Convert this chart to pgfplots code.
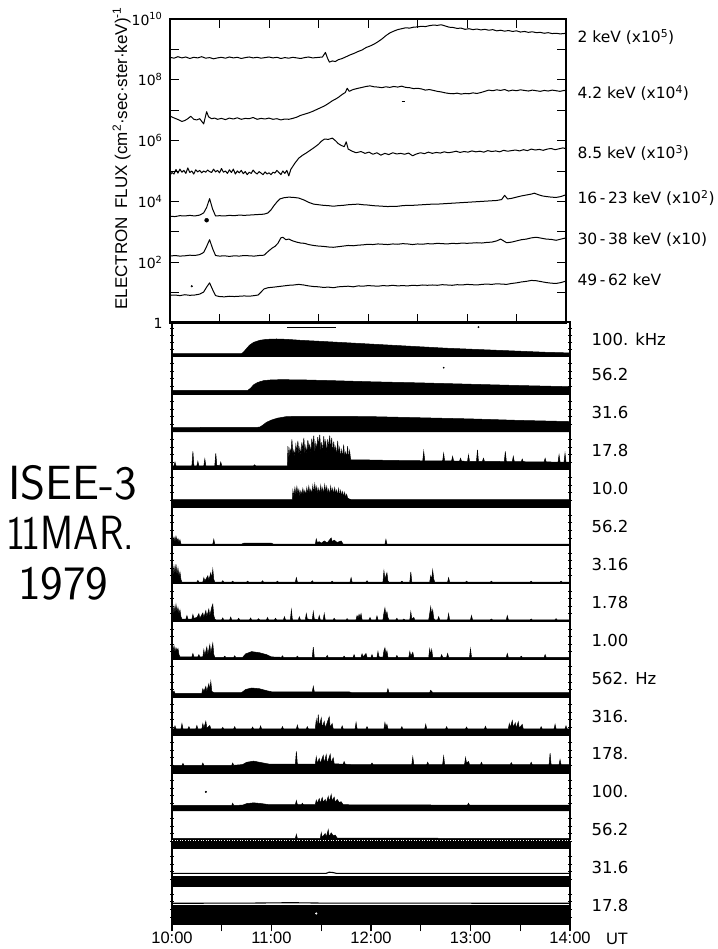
\documentclass[border=0pt]{standalone}
\usepackage{fontspec}
\setmainfont{DejaVu Sans}
\newfontfamily\lib{Liberation Sans}
\usepackage{pgfplots}
\pgfplotsset{compat=1.18}
\newcommand{\slabfont}{\fontsize{16.5}{17}\selectfont}
\newcommand{\slab}[1]{\node[anchor=west,xshift=18pt,font=\slabfont] at (rel axis cs:1,0.5) {#1};}
\pgfplotsset{
  strip/.style={scale only axis, width=398pt, height=#1, anchor=south west,
    xmin=10, xmax=14, ymin=0, ymax=1, clip=false,
    axis line style={line width=1.3pt},
    xtick=\empty, ytick={0.2,0.4,0.6,0.8}, yticklabels={},
    tick align=center, major tick length=4pt, ytick pos=both,
    tick style={black, line width=0.7pt}},
  sfill/.style={fill=black, draw=black, line width=0.5pt},
  trace/.style={black, line width=1pt, line join=round},
}
\begin{document}
\begin{tikzpicture}
\path[use as bounding box] (0pt,0pt) rectangle (717pt,949pt);

% ---------------- top panel: electron flux (log10 values) ----------------
\begin{axis}[scale only axis, width=396pt, height=304pt, at={(170pt,626pt)}, anchor=south west,
  xmin=10, xmax=14, ymin=0, ymax=10, clip=false,
  xtick={10,10.5,...,14}, xticklabels={},
  ytick={0,1,...,10},
  yticklabels={1,{},10\textsuperscript{2},{},10\textsuperscript{4},{},10\textsuperscript{6},{},10\textsuperscript{8},{},10\textsuperscript{10}},
  tick align=inside, tick pos=both, major tick length=9pt,
  axis line style={line width=1.3pt}, tick style={black, line width=0.9pt},
  yticklabel style={font=\fontsize{14}{14}\selectfont, xshift=-4pt},
  ylabel={ELECTRON\enspace FLUX (cm\textsuperscript{2}·sec·ster·keV)\textsuperscript{-1}},
  ylabel style={at={(axis description cs:-0.122,0.542)}, anchor=center, font=\lib\fontsize{17}{17}\selectfont},
]
% 2 keV (x1e5)
\addplot[trace] coordinates {(10.00,8.74)(10.04,8.71)(10.08,8.76)(10.12,8.72)(10.16,8.75)(10.20,8.70)(10.24,8.74)(10.28,8.72)(10.32,8.76)(10.36,8.71)(10.40,8.73)(10.44,8.69)(10.48,8.72)(10.52,8.74)(10.56,8.71)(10.60,8.75)(10.64,8.72)(10.68,8.74)(10.72,8.70)(10.76,8.73)(10.80,8.75)(10.84,8.72)(10.88,8.74)(10.92,8.71)(10.96,8.73)(11.00,8.75)(11.04,8.72)(11.08,8.74)(11.12,8.70)(11.16,8.73)(11.20,8.71)(11.24,8.74)(11.28,8.72)(11.32,8.70)(11.36,8.73)(11.40,8.75)(11.44,8.72)(11.48,8.73)(11.54,8.75)(11.57,8.90)(11.59,8.72)(11.61,8.58)(11.64,8.62)(11.67,8.60)(11.70,8.66)(11.74,8.70)(11.78,8.76)(11.82,8.82)(11.86,8.87)(11.90,8.93)(11.94,8.98)(11.98,9.06)(12.02,9.11)(12.06,9.17)(12.10,9.25)(12.14,9.34)(12.18,9.45)(12.22,9.54)(12.26,9.60)(12.30,9.65)(12.34,9.68)(12.38,9.71)(12.42,9.70)(12.46,9.73)(12.50,9.74)(12.54,9.76)(12.58,9.75)(12.62,9.78)(12.66,9.80)(12.70,9.79)(12.74,9.81)(12.78,9.77)(12.82,9.73)(12.86,9.72)(12.90,9.69)(12.94,9.70)(12.98,9.66)(13.02,9.68)(13.06,9.65)(13.10,9.67)(13.14,9.64)(13.18,9.66)(13.22,9.63)(13.26,9.65)(13.30,9.61)(13.34,9.63)(13.38,9.60)(13.42,9.62)(13.46,9.59)(13.50,9.61)(13.54,9.57)(13.58,9.59)(13.62,9.56)(13.66,9.58)(13.70,9.55)(13.74,9.56)(13.78,9.53)(13.82,9.55)(13.86,9.52)(13.90,9.53)(13.94,9.51)(13.98,9.52)(14.00,9.54)};
% 4.2 keV (x1e4)
\addplot[trace] coordinates {(10.00,6.81)(10.03,6.76)(10.06,6.72)(10.09,6.68)(10.12,6.63)(10.15,6.66)(10.18,6.72)(10.21,6.80)(10.24,6.70)(10.27,6.68)(10.30,6.72)(10.34,6.55)(10.37,6.95)(10.39,6.78)(10.42,6.72)(10.45,6.74)(10.48,6.70)(10.52,6.73)(10.56,6.69)(10.60,6.74)(10.64,6.71)(10.68,6.75)(10.72,6.70)(10.76,6.73)(10.80,6.72)(10.84,6.76)(10.88,6.70)(10.92,6.73)(10.96,6.71)(11.00,6.74)(11.04,6.70)(11.08,6.72)(11.12,6.68)(11.16,6.71)(11.20,6.70)(11.24,6.73)(11.28,6.77)(11.32,6.83)(11.36,6.87)(11.40,6.91)(11.44,6.96)(11.48,7.02)(11.52,7.08)(11.56,7.14)(11.60,7.22)(11.64,7.31)(11.67,7.36)(11.70,7.42)(11.74,7.52)(11.77,7.58)(11.79,7.72)(11.81,7.62)(11.85,7.68)(11.90,7.72)(11.94,7.75)(11.98,7.78)(12.02,7.80)(12.06,7.77)(12.10,7.76)(12.14,7.74)(12.18,7.77)(12.22,7.75)(12.26,7.78)(12.30,7.76)(12.34,7.79)(12.38,7.75)(12.42,7.74)(12.46,7.71)(12.50,7.72)(12.54,7.70)(12.58,7.66)(12.62,7.68)(12.66,7.65)(12.70,7.62)(12.74,7.60)(12.78,7.57)(12.82,7.55)(12.86,7.54)(12.90,7.56)(12.94,7.53)(12.98,7.55)(13.02,7.54)(13.06,7.57)(13.10,7.55)(13.14,7.58)(13.18,7.62)(13.22,7.66)(13.26,7.64)(13.30,7.67)(13.34,7.65)(13.38,7.68)(13.42,7.63)(13.46,7.66)(13.50,7.64)(13.54,7.67)(13.58,7.65)(13.62,7.63)(13.66,7.66)(13.70,7.64)(13.74,7.62)(13.78,7.65)(13.82,7.63)(13.86,7.66)(13.90,7.64)(13.94,7.62)(13.98,7.65)(14.00,7.64)};
% 8.5 keV (x1e3)
\addplot[trace] coordinates {(10.00,4.86)(10.02,4.95)(10.04,4.90)(10.06,5.05)(10.08,4.93)(10.10,5.06)(10.12,4.96)(10.14,5.02)(10.16,4.92)(10.18,5.10)(10.20,4.95)(10.22,5.00)(10.24,4.90)(10.26,5.04)(10.28,4.97)(10.30,5.02)(10.32,4.94)(10.34,5.00)(10.36,4.96)(10.38,5.03)(10.40,4.98)(10.42,4.95)(10.44,5.06)(10.46,4.97)(10.48,5.02)(10.50,4.94)(10.52,5.08)(10.54,4.96)(10.56,5.00)(10.58,4.92)(10.60,5.04)(10.62,4.95)(10.64,5.06)(10.66,4.90)(10.68,5.00)(10.70,4.94)(10.72,5.02)(10.74,4.91)(10.76,4.98)(10.78,4.88)(10.80,4.96)(10.82,4.92)(10.84,5.03)(10.86,4.95)(10.88,4.90)(10.90,4.98)(10.92,4.93)(10.94,4.88)(10.96,4.97)(10.98,4.90)(11.00,4.94)(11.02,4.88)(11.04,4.96)(11.06,4.93)(11.08,5.02)(11.10,4.95)(11.12,4.88)(11.14,5.00)(11.16,4.92)(11.18,5.02)(11.20,4.84)(11.22,5.05)(11.26,5.25)(11.30,5.42)(11.34,5.52)(11.38,5.60)(11.42,5.69)(11.46,5.78)(11.50,5.88)(11.53,5.98)(11.56,6.05)(11.60,6.04)(11.64,6.08)(11.67,6.00)(11.70,5.90)(11.73,5.84)(11.76,5.80)(11.78,5.96)(11.80,5.72)(11.84,5.65)(11.88,5.60)(11.93,5.64)(11.97,5.58)(12.01,5.62)(12.05,5.55)(12.09,5.60)(12.13,5.52)(12.17,5.58)(12.21,5.54)(12.25,5.60)(12.29,5.56)(12.33,5.58)(12.37,5.55)(12.41,5.59)(12.45,5.50)(12.49,5.56)(12.53,5.60)(12.57,5.57)(12.61,5.62)(12.65,5.58)(12.69,5.61)(12.73,5.59)(12.77,5.63)(12.81,5.60)(12.85,5.62)(12.89,5.65)(12.93,5.61)(12.97,5.64)(13.01,5.62)(13.05,5.66)(13.09,5.63)(13.13,5.65)(13.17,5.62)(13.21,5.67)(13.25,5.64)(13.29,5.66)(13.33,5.63)(13.37,5.68)(13.41,5.65)(13.45,5.67)(13.49,5.69)(13.53,5.66)(13.57,5.70)(13.61,5.67)(13.65,5.72)(13.69,5.69)(13.73,5.71)(13.77,5.68)(13.81,5.72)(13.85,5.74)(13.89,5.70)(13.93,5.73)(13.97,5.76)(14.00,5.73)};
% 16-23 keV (x1e2)
\addplot[trace] coordinates {(10.00,3.51)(10.05,3.50)(10.10,3.53)(10.15,3.52)(10.20,3.54)(10.25,3.52)(10.30,3.55)(10.34,3.62)(10.37,3.80)(10.40,4.09)(10.43,3.75)(10.46,3.52)(10.50,3.53)(10.55,3.52)(10.60,3.54)(10.65,3.53)(10.70,3.55)(10.75,3.54)(10.80,3.55)(10.85,3.56)(10.90,3.57)(10.95,3.58)(10.99,3.62)(11.02,3.72)(11.05,3.86)(11.08,3.98)(11.11,4.08)(11.15,4.12)(11.20,4.14)(11.25,4.13)(11.30,4.11)(11.35,4.05)(11.40,3.97)(11.45,3.91)(11.50,3.89)(11.55,3.87)(11.60,3.86)(11.65,3.84)(11.70,3.86)(11.75,3.87)(11.80,3.89)(11.85,3.90)(11.90,3.91)(11.95,3.89)(12.00,3.88)(12.05,3.86)(12.10,3.85)(12.15,3.84)(12.20,3.83)(12.25,3.84)(12.30,3.84)(12.35,3.86)(12.40,3.87)(12.45,3.87)(12.50,3.88)(12.55,3.89)(12.60,3.90)(12.65,3.91)(12.70,3.91)(12.75,3.92)(12.80,3.93)(12.85,3.94)(12.90,3.95)(12.95,3.96)(13.00,3.97)(13.05,3.98)(13.10,3.99)(13.15,4.00)(13.20,4.01)(13.25,4.02)(13.30,4.03)(13.35,4.06)(13.38,4.20)(13.41,4.08)(13.45,4.10)(13.50,4.14)(13.55,4.18)(13.60,4.21)(13.65,4.24)(13.68,4.27)(13.72,4.22)(13.76,4.18)(13.80,4.16)(13.85,4.14)(13.90,4.13)(13.95,4.16)(14.00,4.22)};
% 30-38 keV (x10)
\addplot[trace] coordinates {(10.00,2.20)(10.05,2.22)(10.10,2.20)(10.15,2.21)(10.20,2.23)(10.25,2.22)(10.30,2.25)(10.34,2.32)(10.37,2.52)(10.40,2.74)(10.43,2.45)(10.46,2.22)(10.50,2.20)(10.55,2.21)(10.60,2.19)(10.65,2.21)(10.70,2.20)(10.75,2.22)(10.80,2.21)(10.85,2.20)(10.90,2.22)(10.95,2.23)(10.99,2.35)(11.03,2.46)(11.06,2.52)(11.09,2.62)(11.12,2.80)(11.14,2.82)(11.17,2.74)(11.20,2.76)(11.24,2.70)(11.28,2.66)(11.32,2.63)(11.36,2.62)(11.40,2.58)(11.45,2.55)(11.50,2.53)(11.55,2.52)(11.60,2.50)(11.65,2.49)(11.70,2.51)(11.75,2.53)(11.80,2.55)(11.85,2.54)(11.90,2.56)(11.95,2.57)(12.00,2.59)(12.05,2.58)(12.10,2.60)(12.15,2.59)(12.20,2.58)(12.25,2.60)(12.30,2.59)(12.35,2.61)(12.40,2.60)(12.45,2.58)(12.50,2.60)(12.55,2.59)(12.60,2.61)(12.65,2.60)(12.70,2.62)(12.75,2.61)(12.80,2.60)(12.85,2.62)(12.90,2.61)(12.95,2.63)(13.00,2.62)(13.05,2.63)(13.10,2.64)(13.15,2.63)(13.20,2.65)(13.25,2.66)(13.30,2.70)(13.34,2.76)(13.37,2.70)(13.40,2.64)(13.45,2.66)(13.50,2.70)(13.55,2.74)(13.60,2.76)(13.65,2.80)(13.70,2.82)(13.75,2.79)(13.80,2.76)(13.85,2.75)(13.90,2.72)(13.95,2.76)(14.00,2.80)};
% 49-62 keV
\addplot[trace] coordinates {(10.00,0.91)(10.05,0.92)(10.10,0.90)(10.15,0.93)(10.20,0.91)(10.25,0.92)(10.30,0.95)(10.34,1.02)(10.37,1.18)(10.40,1.32)(10.43,1.10)(10.46,0.90)(10.50,0.87)(10.55,0.86)(10.60,0.88)(10.65,0.87)(10.70,0.88)(10.75,0.89)(10.80,0.88)(10.85,0.90)(10.89,0.92)(10.92,1.02)(10.95,1.12)(10.99,1.16)(11.05,1.18)(11.10,1.20)(11.15,1.22)(11.20,1.24)(11.25,1.25)(11.30,1.27)(11.35,1.25)(11.40,1.22)(11.45,1.20)(11.50,1.19)(11.55,1.17)(11.60,1.18)(11.65,1.16)(11.70,1.19)(11.75,1.20)(11.80,1.21)(11.85,1.19)(11.90,1.22)(11.95,1.21)(12.00,1.23)(12.05,1.22)(12.10,1.21)(12.15,1.23)(12.20,1.22)(12.25,1.24)(12.30,1.22)(12.35,1.23)(12.40,1.22)(12.45,1.24)(12.50,1.23)(12.55,1.25)(12.60,1.24)(12.65,1.25)(12.70,1.24)(12.75,1.26)(12.80,1.25)(12.85,1.24)(12.90,1.26)(12.95,1.25)(13.00,1.27)(13.05,1.26)(13.10,1.25)(13.15,1.27)(13.20,1.28)(13.25,1.27)(13.30,1.29)(13.35,1.28)(13.40,1.27)(13.45,1.30)(13.50,1.32)(13.55,1.35)(13.60,1.37)(13.65,1.40)(13.70,1.39)(13.75,1.36)(13.80,1.33)(13.85,1.31)(13.90,1.30)(13.95,1.33)(14.00,1.38)};
\addplot[only marks, mark=*, mark size=2pt, black] coordinates {(10.37,3.38)};
\addplot[only marks, mark=*, mark size=0.8pt, black] coordinates {(10.22,1.21)};
\addplot[black, line width=1pt] coordinates {(12.34,7.30)(12.37,7.30)};
\node[anchor=west,xshift=8pt,font=\fontsize{15.5}{16}\selectfont] at (axis cs:14,9.41) {2 keV (x10\textsuperscript{5})};
\node[anchor=west,xshift=8pt,font=\fontsize{15.5}{16}\selectfont] at (axis cs:14,7.57) {4.2 keV (x10\textsuperscript{4})};
\node[anchor=west,xshift=8pt,font=\fontsize{15.5}{16}\selectfont] at (axis cs:14,5.59) {8.5 keV (x10\textsuperscript{3})};
\node[anchor=west,xshift=8pt,font=\fontsize{15.5}{16}\selectfont] at (axis cs:14,4.11) {16\,-\,23 keV (x10\textsuperscript{2})};
\node[anchor=west,xshift=8pt,font=\fontsize{15.5}{16}\selectfont] at (axis cs:14,2.73) {30\,-\,38 keV (x10)};
\node[anchor=west,xshift=8pt,font=\fontsize{15.5}{16}\selectfont] at (axis cs:14,1.41) {49\,-\,62 keV};
\end{axis}

% ---------------- radio strips ----------------
% 1: 100 kHz
\begin{axis}[strip=34pt, at={(172pt,593pt)}]
\addplot[sfill] coordinates {(10,0.07)(10.70,0.07)(10.72,0.12)(10.75,0.22)(10.78,0.32)(10.82,0.40)(10.88,0.46)(10.95,0.49)(11.05,0.50)(11.15,0.49)(11.30,0.46)(11.50,0.43)(11.75,0.39)(12.00,0.35)(12.25,0.31)(12.50,0.27)(12.75,0.23)(13.00,0.20)(13.25,0.17)(13.50,0.14)(13.75,0.11)(14,0.09)} \closedcycle;
\addplot[black, line width=1.3pt] coordinates {(11.16,0.84)(11.65,0.84)};
\addplot[only marks, mark=*, mark size=0.7pt, black] coordinates {(13.08,0.85)};
\slab{100. kHz}
\end{axis}
% 2: 56.2
\begin{axis}[strip=37.9pt, at={(172pt,555.1pt)}]
\addplot[sfill] coordinates {(10,0.09)(10.76,0.09)(10.79,0.15)(10.82,0.24)(10.86,0.30)(10.92,0.35)(11.00,0.37)(11.10,0.375)(11.30,0.37)(11.60,0.35)(12.00,0.32)(12.50,0.29)(13.00,0.255)(13.50,0.22)(14,0.19)} \closedcycle;
\addplot[only marks, mark=*, mark size=0.6pt, black] coordinates {(12.73,0.69)};
\slab{56.2}
\end{axis}
% 3: 31.6
\begin{axis}[strip=37.9pt, at={(172pt,517.2pt)}]
\addplot[sfill] coordinates {(10,0.11)(10.88,0.12)(10.91,0.17)(10.95,0.25)(11.00,0.31)(11.06,0.36)(11.15,0.40)(11.30,0.41)(11.60,0.41)(12.00,0.40)(12.50,0.37)(13.00,0.34)(13.50,0.30)(14,0.27)} \closedcycle;
\slab{31.6}
\end{axis}
% 4: 17.8
\begin{axis}[strip=37.9pt, at={(172pt,479.3pt)}]
\addplot[sfill] coordinates {(10,0.1)(10.02,0.1)(10.03,0.2)(10.04,0.1)(10.20,0.1)(10.21,0.48)(10.22,0.1)(10.25,0.1)(10.26,0.22)(10.27,0.1)(10.32,0.1)(10.33,0.28)(10.34,0.1)(10.43,0.1)(10.44,0.43)(10.45,0.12)(10.48,0.1)(10.49,0.2)(10.50,0.1)(10.82,0.1)(10.83,0.13)(10.84,0.1)(11.16,0.1)(11.165,0.62)(11.175,0.30)(11.185,0.55)(11.195,0.42)(11.205,0.80)(11.215,0.40)(11.225,0.52)(11.235,0.34)(11.245,0.66)(11.255,0.46)(11.265,0.76)(11.275,0.40)(11.285,0.58)(11.295,0.36)(11.305,0.72)(11.315,0.50)(11.325,0.84)(11.335,0.42)(11.345,0.62)(11.355,0.38)(11.365,0.78)(11.375,0.58)(11.385,0.66)(11.395,0.40)(11.405,0.82)(11.415,0.60)(11.425,0.90)(11.435,0.44)(11.445,0.70)(11.455,0.52)(11.465,0.86)(11.475,0.62)(11.485,0.92)(11.495,0.48)(11.505,0.72)(11.515,0.42)(11.525,0.88)(11.535,0.60)(11.545,0.76)(11.555,0.40)(11.565,0.80)(11.575,0.56)(11.585,0.90)(11.595,0.50)(11.605,0.84)(11.615,0.40)(11.625,0.74)(11.635,0.48)(11.645,0.60)(11.655,0.34)(11.665,0.76)(11.675,0.40)(11.685,0.58)(11.695,0.32)(11.705,0.52)(11.715,0.30)(11.725,0.66)(11.735,0.32)(11.745,0.46)(11.755,0.30)(11.765,0.62)(11.775,0.28)(11.785,0.50)(11.795,0.27)(11.80,0.26)(11.90,0.26)(12.20,0.245)(12.52,0.235)(12.53,0.48)(12.54,0.235)(12.72,0.23)(12.73,0.43)(12.74,0.23)(12.81,0.23)(12.82,0.35)(12.83,0.23)(12.89,0.225)(12.90,0.30)(12.91,0.225)(12.97,0.22)(12.98,0.39)(12.99,0.22)(13.06,0.22)(13.07,0.52)(13.08,0.22)(13.12,0.22)(13.13,0.30)(13.14,0.22)(13.34,0.215)(13.35,0.48)(13.36,0.215)(13.42,0.21)(13.43,0.35)(13.44,0.21)(13.51,0.21)(13.52,0.28)(13.53,0.21)(13.74,0.205)(13.75,0.30)(13.76,0.205)(13.88,0.2)(13.89,0.39)(13.90,0.2)(13.94,0.2)(13.95,0.43)(13.96,0.2)(14,0.2)} \closedcycle;
\slab{17.8}
\end{axis}
% 5: 10.0
\begin{axis}[strip=37.9pt, at={(172pt,441.4pt)}]
\addplot[sfill] coordinates {(10,0.21)(11.21,0.21)(11.215,0.45)(11.225,0.30)(11.235,0.52)(11.245,0.34)(11.255,0.55)(11.265,0.36)(11.275,0.48)(11.285,0.30)(11.295,0.44)(11.305,0.33)(11.315,0.50)(11.325,0.35)(11.335,0.45)(11.345,0.32)(11.355,0.52)(11.365,0.36)(11.375,0.56)(11.385,0.38)(11.395,0.48)(11.405,0.34)(11.415,0.58)(11.425,0.38)(11.435,0.62)(11.445,0.40)(11.455,0.55)(11.465,0.36)(11.475,0.50)(11.485,0.35)(11.495,0.58)(11.505,0.38)(11.515,0.52)(11.525,0.34)(11.535,0.60)(11.545,0.40)(11.555,0.55)(11.565,0.36)(11.575,0.48)(11.585,0.33)(11.595,0.56)(11.605,0.38)(11.615,0.50)(11.625,0.34)(11.635,0.52)(11.645,0.36)(11.655,0.46)(11.665,0.32)(11.675,0.50)(11.685,0.30)(11.695,0.45)(11.705,0.30)(11.715,0.42)(11.725,0.28)(11.735,0.40)(11.745,0.26)(11.755,0.35)(11.765,0.25)(11.78,0.23)(11.80,0.21)(14,0.21)} \closedcycle;
\slab{10.0}
\end{axis}
% 6: 56.2
\begin{axis}[strip=37.9pt, at={(172pt,403.5pt)}]
\addplot[sfill] coordinates {(10,0.035)(10.00,0.20)(10.01,0.12)(10.02,0.22)(10.03,0.10)(10.04,0.24)(10.05,0.12)(10.06,0.18)(10.07,0.08)(10.08,0.15)(10.09,0.035)(10.41,0.035)(10.42,0.16)(10.43,0.035)(10.70,0.035)(10.72,0.06)(11.00,0.06)(11.02,0.035)(11.44,0.035)(11.45,0.17)(11.46,0.08)(11.48,0.10)(11.50,0.06)(11.53,0.12)(11.56,0.07)(11.60,0.20)(11.61,0.10)(11.63,0.14)(11.66,0.08)(11.70,0.12)(11.72,0.035)(12.14,0.035)(12.15,0.16)(12.16,0.035)(14,0.035)} \closedcycle;
\slab{56.2}
\end{axis}
% 7: 3.16
\begin{axis}[strip=37.9pt, at={(172pt,365.6pt)}]
\addplot[sfill] coordinates {(10,0.035)(10.00,0.35)(10.01,0.20)(10.02,0.45)(10.03,0.25)(10.04,0.50)(10.05,0.22)(10.06,0.40)(10.07,0.18)(10.08,0.30)(10.09,0.10)(10.10,0.035)(10.25,0.035)(10.26,0.08)(10.27,0.035)(10.31,0.035)(10.32,0.15)(10.33,0.06)(10.36,0.20)(10.37,0.08)(10.39,0.28)(10.40,0.12)(10.41,0.37)(10.42,0.10)(10.43,0.035)(10.50,0.035)(10.51,0.07)(10.52,0.035)(10.60,0.035)(10.61,0.06)(10.62,0.035)(10.75,0.035)(10.76,0.06)(10.77,0.035)(10.90,0.035)(10.91,0.07)(10.92,0.035)(11.05,0.035)(11.06,0.06)(11.07,0.035)(11.24,0.035)(11.25,0.15)(11.26,0.035)(11.40,0.035)(11.41,0.07)(11.42,0.035)(11.60,0.035)(11.61,0.06)(11.62,0.035)(11.79,0.035)(11.80,0.15)(11.81,0.035)(11.95,0.035)(11.96,0.07)(11.97,0.035)(12.12,0.035)(12.13,0.33)(12.14,0.12)(12.16,0.28)(12.17,0.06)(12.18,0.035)(12.30,0.035)(12.31,0.06)(12.32,0.035)(12.39,0.035)(12.40,0.30)(12.41,0.035)(12.59,0.035)(12.60,0.20)(12.61,0.10)(12.62,0.35)(12.63,0.12)(12.64,0.035)(12.77,0.035)(12.78,0.15)(12.79,0.035)(12.95,0.035)(12.96,0.06)(12.97,0.035)(13.20,0.035)(13.21,0.06)(13.22,0.035)(13.60,0.035)(13.61,0.06)(13.62,0.035)(13.90,0.035)(13.91,0.06)(13.92,0.035)(14,0.035)} \closedcycle;
\slab{3.16}
\end{axis}
% 8: 1.78
\begin{axis}[strip=37.9pt, at={(172pt,327.7pt)}]
\addplot[sfill] coordinates {(10,0.04)(10.00,0.30)(10.01,0.18)(10.02,0.40)(10.03,0.22)(10.04,0.44)(10.05,0.25)(10.06,0.36)(10.07,0.20)(10.08,0.30)(10.09,0.12)(10.10,0.06)(10.14,0.06)(10.15,0.15)(10.16,0.06)(10.20,0.06)(10.21,0.18)(10.22,0.08)(10.25,0.10)(10.27,0.20)(10.28,0.08)(10.31,0.22)(10.32,0.10)(10.34,0.28)(10.35,0.12)(10.37,0.32)(10.38,0.14)(10.40,0.38)(10.41,0.45)(10.42,0.15)(10.43,0.06)(10.44,0.04)(10.50,0.04)(10.51,0.09)(10.52,0.04)(10.58,0.04)(10.59,0.11)(10.60,0.04)(10.66,0.04)(10.67,0.08)(10.68,0.04)(10.78,0.04)(10.79,0.09)(10.80,0.04)(10.86,0.04)(10.87,0.07)(10.88,0.04)(10.95,0.04)(10.96,0.10)(10.97,0.04)(11.03,0.04)(11.04,0.08)(11.05,0.04)(11.12,0.04)(11.13,0.12)(11.14,0.04)(11.19,0.04)(11.20,0.30)(11.21,0.04)(11.27,0.04)(11.28,0.12)(11.29,0.04)(11.34,0.04)(11.35,0.20)(11.36,0.06)(11.41,0.04)(11.42,0.25)(11.43,0.06)(11.47,0.04)(11.48,0.15)(11.49,0.04)(11.52,0.04)(11.53,0.20)(11.54,0.04)(11.62,0.04)(11.63,0.08)(11.64,0.04)(11.75,0.04)(11.76,0.07)(11.77,0.04)(11.85,0.04)(11.86,0.15)(11.87,0.08)(11.88,0.18)(11.89,0.10)(11.90,0.20)(11.91,0.04)(11.98,0.04)(11.99,0.10)(12.00,0.04)(12.05,0.04)(12.06,0.14)(12.07,0.04)(12.12,0.04)(12.13,0.22)(12.14,0.35)(12.15,0.15)(12.16,0.25)(12.17,0.10)(12.18,0.04)(12.25,0.04)(12.26,0.08)(12.27,0.04)(12.32,0.04)(12.33,0.06)(12.34,0.04)(12.39,0.04)(12.40,0.25)(12.41,0.06)(12.43,0.10)(12.44,0.04)(12.58,0.04)(12.59,0.20)(12.60,0.38)(12.61,0.18)(12.62,0.30)(12.63,0.08)(12.64,0.04)(12.67,0.04)(12.68,0.12)(12.69,0.04)(12.77,0.04)(12.78,0.20)(12.79,0.04)(13.00,0.04)(13.01,0.15)(13.02,0.04)(13.20,0.04)(13.21,0.06)(13.22,0.04)(13.36,0.04)(13.37,0.15)(13.38,0.04)(13.60,0.04)(13.61,0.06)(13.62,0.04)(13.85,0.04)(13.86,0.07)(13.87,0.04)(14,0.04)} \closedcycle;
\slab{1.78}
\end{axis}
% 9: 1.00
\begin{axis}[strip=37.9pt, at={(172pt,289.8pt)}]
\addplot[sfill] coordinates {(10,0.05)(10.00,0.30)(10.01,0.20)(10.02,0.35)(10.03,0.18)(10.04,0.30)(10.05,0.22)(10.06,0.28)(10.07,0.12)(10.08,0.06)(10.20,0.06)(10.21,0.15)(10.22,0.06)(10.26,0.06)(10.27,0.12)(10.28,0.06)(10.31,0.06)(10.32,0.25)(10.33,0.10)(10.35,0.32)(10.36,0.12)(10.38,0.38)(10.39,0.15)(10.41,0.42)(10.42,0.12)(10.43,0.05)(10.52,0.05)(10.53,0.08)(10.54,0.05)(10.62,0.05)(10.63,0.09)(10.64,0.05)(10.71,0.05)(10.74,0.14)(10.80,0.20)(10.88,0.17)(10.95,0.12)(11.00,0.06)(11.10,0.05)(11.11,0.09)(11.12,0.05)(11.25,0.05)(11.26,0.08)(11.27,0.05)(11.41,0.05)(11.42,0.32)(11.43,0.05)(11.55,0.05)(11.56,0.10)(11.57,0.05)(11.72,0.05)(11.73,0.08)(11.74,0.05)(11.82,0.05)(11.83,0.12)(11.84,0.05)(11.90,0.05)(11.91,0.14)(11.92,0.06)(11.95,0.15)(11.96,0.05)(12.00,0.05)(12.01,0.12)(12.02,0.05)(12.06,0.05)(12.07,0.20)(12.08,0.06)(12.12,0.05)(12.13,0.22)(12.14,0.30)(12.15,0.12)(12.16,0.22)(12.17,0.05)(12.25,0.05)(12.26,0.10)(12.27,0.05)(12.38,0.05)(12.39,0.20)(12.40,0.08)(12.42,0.18)(12.43,0.05)(12.58,0.05)(12.59,0.27)(12.60,0.12)(12.61,0.25)(12.62,0.05)(12.70,0.05)(12.71,0.12)(12.72,0.05)(12.76,0.05)(12.77,0.15)(12.78,0.05)(12.99,0.05)(13.00,0.27)(13.01,0.05)(13.36,0.05)(13.37,0.15)(13.38,0.05)(13.50,0.05)(13.51,0.08)(13.52,0.05)(13.74,0.05)(13.75,0.12)(13.76,0.05)(14,0.05)} \closedcycle;
\slab{1.00}
\end{axis}
% 10: 562 Hz
\begin{axis}[strip=37.9pt, at={(172pt,251.9pt)}]
\addplot[sfill] coordinates {(10,0.10)(10.00,0.18)(10.01,0.12)(10.02,0.16)(10.03,0.10)(10.30,0.10)(10.31,0.22)(10.32,0.14)(10.34,0.28)(10.35,0.15)(10.37,0.35)(10.38,0.18)(10.39,0.41)(10.40,0.15)(10.42,0.12)(10.70,0.12)(10.74,0.20)(10.80,0.24)(10.88,0.22)(10.95,0.17)(11.00,0.14)(11.41,0.14)(11.42,0.28)(11.43,0.14)(11.78,0.14)(11.80,0.12)(12.16,0.12)(12.17,0.22)(12.18,0.12)(12.59,0.12)(12.60,0.18)(12.62,0.12)(14,0.12)} \closedcycle;
\slab{562. Hz}
\end{axis}
% 11: 316
\begin{axis}[strip=37.9pt, at={(172pt,214.0pt)}]
\addplot[sfill] coordinates {(10,0.16)(10.02,0.16)(10.03,0.24)(10.04,0.16)(10.09,0.16)(10.10,0.30)(10.11,0.16)(10.16,0.16)(10.17,0.22)(10.18,0.16)(10.24,0.16)(10.25,0.25)(10.26,0.16)(10.30,0.16)(10.31,0.30)(10.32,0.18)(10.34,0.36)(10.35,0.18)(10.38,0.25)(10.39,0.16)(10.50,0.16)(10.51,0.20)(10.52,0.16)(10.62,0.16)(10.63,0.22)(10.64,0.16)(10.80,0.16)(10.81,0.21)(10.82,0.16)(10.88,0.16)(10.89,0.24)(10.90,0.16)(11.10,0.16)(11.11,0.22)(11.12,0.16)(11.25,0.16)(11.26,0.26)(11.27,0.16)(11.35,0.16)(11.36,0.22)(11.37,0.16)(11.44,0.16)(11.45,0.40)(11.46,0.20)(11.47,0.54)(11.48,0.22)(11.50,0.45)(11.51,0.20)(11.53,0.36)(11.54,0.18)(11.58,0.48)(11.59,0.20)(11.61,0.30)(11.62,0.16)(11.70,0.16)(11.71,0.24)(11.72,0.16)(11.84,0.16)(11.85,0.33)(11.86,0.16)(11.95,0.16)(11.96,0.22)(11.97,0.16)(12.13,0.16)(12.14,0.33)(12.15,0.20)(12.16,0.28)(12.17,0.16)(12.30,0.16)(12.31,0.22)(12.32,0.16)(12.54,0.16)(12.55,0.28)(12.56,0.16)(12.75,0.16)(12.76,0.22)(12.77,0.16)(12.95,0.16)(12.96,0.21)(12.97,0.16)(13.14,0.16)(13.15,0.23)(13.16,0.16)(13.38,0.16)(13.39,0.30)(13.40,0.20)(13.42,0.38)(13.43,0.20)(13.45,0.32)(13.46,0.18)(13.48,0.35)(13.49,0.18)(13.52,0.28)(13.53,0.16)(13.70,0.16)(13.71,0.22)(13.72,0.16)(13.84,0.16)(13.85,0.28)(13.86,0.16)(13.95,0.16)(13.96,0.24)(13.97,0.16)(14,0.16)} \closedcycle;
\slab{316.}
\end{axis}
% 12: 178
\begin{axis}[strip=37.9pt, at={(172pt,176.1pt)}]
\addplot[sfill] coordinates {(10,0.20)(10.00,0.26)(10.01,0.20)(10.10,0.20)(10.11,0.25)(10.12,0.20)(10.30,0.20)(10.31,0.26)(10.32,0.20)(10.60,0.20)(10.61,0.26)(10.62,0.20)(10.71,0.22)(10.75,0.28)(10.82,0.31)(10.90,0.27)(10.98,0.23)(11.24,0.23)(11.25,0.57)(11.26,0.23)(11.44,0.23)(11.45,0.42)(11.46,0.25)(11.48,0.38)(11.49,0.25)(11.52,0.46)(11.53,0.26)(11.55,0.48)(11.56,0.25)(11.59,0.49)(11.60,0.26)(11.62,0.40)(11.63,0.24)(11.72,0.23)(11.73,0.30)(11.74,0.23)(11.80,0.22)(12.00,0.22)(12.01,0.26)(12.02,0.22)(12.41,0.22)(12.42,0.42)(12.43,0.22)(12.56,0.22)(12.57,0.28)(12.58,0.22)(12.72,0.22)(12.73,0.44)(12.74,0.22)(12.94,0.22)(12.95,0.40)(12.96,0.26)(12.98,0.30)(12.99,0.22)(13.10,0.22)(13.11,0.28)(13.12,0.22)(13.40,0.22)(13.41,0.27)(13.42,0.22)(13.60,0.22)(13.61,0.28)(13.62,0.22)(13.79,0.22)(13.80,0.52)(13.81,0.22)(13.89,0.22)(13.90,0.35)(13.91,0.22)(14,0.22)} \closedcycle;
\slab{178.}
\end{axis}
% 13: 100
\begin{axis}[strip=37.9pt, at={(172pt,138.2pt)}]
\addplot[sfill] coordinates {(10,0.14)(10.60,0.14)(10.61,0.20)(10.62,0.14)(10.71,0.15)(10.75,0.19)(10.82,0.21)(10.90,0.19)(10.98,0.16)(11.24,0.16)(11.25,0.27)(11.26,0.16)(11.30,0.16)(11.31,0.20)(11.32,0.16)(11.44,0.16)(11.45,0.28)(11.46,0.20)(11.48,0.32)(11.49,0.20)(11.51,0.35)(11.52,0.22)(11.54,0.30)(11.55,0.20)(11.57,0.38)(11.58,0.24)(11.60,0.43)(11.61,0.26)(11.63,0.36)(11.64,0.22)(11.66,0.30)(11.68,0.22)(11.70,0.24)(11.72,0.16)(12.97,0.15)(12.98,0.20)(12.99,0.15)(14,0.15)} \closedcycle;
\addplot[only marks, mark=*, mark size=0.8pt, black] coordinates {(10.34,0.50)};
\slab{100.}
\end{axis}
% 14: 56.2
\begin{axis}[strip=37.9pt, at={(172pt,100.3pt)}]
\addplot[sfill] coordinates {(10,0.27)(11.24,0.27)(11.25,0.38)(11.26,0.27)(11.49,0.27)(11.50,0.42)(11.51,0.30)(11.54,0.40)(11.55,0.30)(11.57,0.50)(11.58,0.32)(11.60,0.42)(11.62,0.34)(11.64,0.36)(11.66,0.28)(14,0.27)} \closedcycle;
\addplot[white, line width=1pt, dash pattern=on 1pt off 1.6pt] coordinates {(10,0.22)(14,0.22)};
\slab{56.2}
\end{axis}
% 15: 31.6
\begin{axis}[strip=37.9pt, at={(172pt,62.4pt)}]
\addplot[sfill] coordinates {(10,0.28)(14,0.28)} \closedcycle;
\addplot[black, line width=1.1pt] coordinates {(10,0.35)(11.55,0.35)(11.58,0.38)(11.62,0.37)(11.65,0.35)(14,0.35)};
\slab{31.6}
\end{axis}
% 16: 17.8
\begin{axis}[strip=37.9pt, at={(172pt,24.5pt)}]
\addplot[sfill] coordinates {(10,0.5)(14,0.5)} \closedcycle;
\addplot[black, line width=1.1pt] coordinates {(10,0.56)(10.8,0.565)(11.2,0.575)(11.5,0.565)(14,0.56)};
\addplot[only marks, mark=*, mark size=0.8pt, white] coordinates {(11.45,0.29)};
\slab{17.8}
\end{axis}
% time axis
\begin{axis}[scale only axis, width=398pt, height=37.9pt, at={(172pt,24.5pt)}, anchor=south west,
  xmin=10, xmax=14, ymin=0, ymax=1, axis line style={draw=none}, ytick=\empty,
  xtick={10,10.5,...,14}, xticklabels={10:00,{},11:00,{},12:00,{},13:00,{},14:00},
  xtick pos=bottom, tick align=outside, major tick length=7pt,
  tick style={black, line width=1.1pt},
  xticklabel style={font=\lib\fontsize{16.5}{16.5}\selectfont, inner sep=1pt, yshift=1pt}]
\addplot[draw=none] coordinates {(10,0.5)(14,0.5)};
\end{axis}
\node[font=\lib\fontsize{16.5}{16.5}\selectfont, inner sep=1pt] at (617pt,10pt) {UT};

% left title
\node[anchor=base west, inner sep=0, font=\sffamily\fontsize{48}{48}\selectfont] at (8pt,449pt) {ISEE-3};
\node[anchor=base west, inner sep=0, font=\sffamily\fontsize{48}{48}\selectfont, xscale=0.84, transform shape] at (6pt,399pt) {1\kern-0.1em1\kern0.02em MAR.};
\node[anchor=base west, inner sep=0, font=\sffamily\fontsize{48}{48}\selectfont] at (18pt,349pt) {1979};
\end{tikzpicture}
\end{document}
